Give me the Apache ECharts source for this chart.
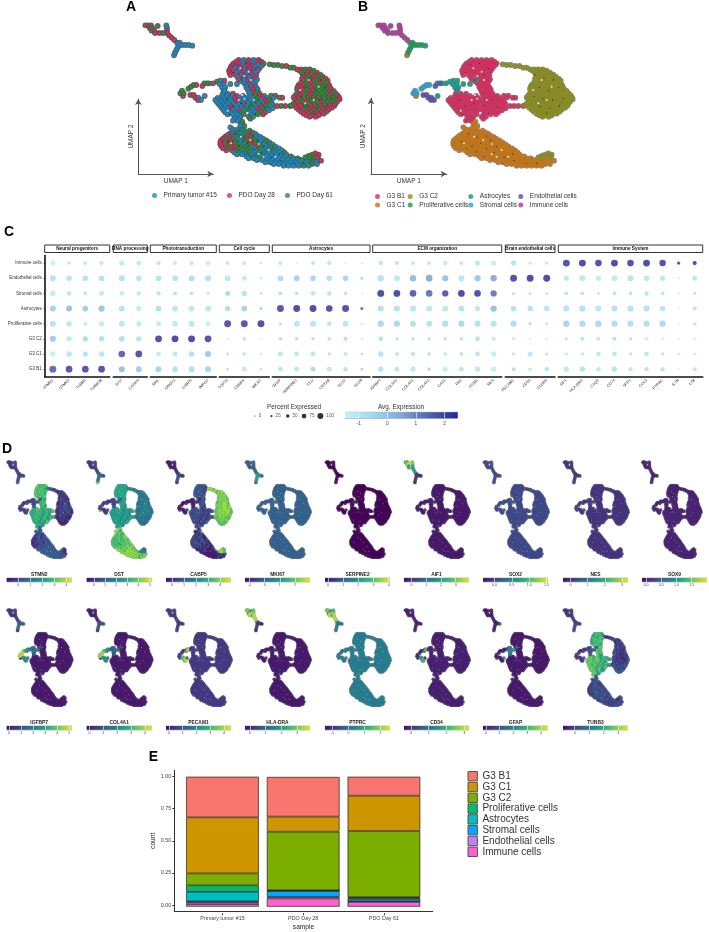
<!DOCTYPE html>
<html><head><meta charset="utf-8">
<style>html,body{margin:0;padding:0;background:#fff}#c{width:709px;height:932px;filter:blur(.3px)}</style>
<script src="https://cdn.jsdelivr.net/npm/echarts@6/dist/echarts.min.js"></script>
</head><body><div id="c"></div>
<script>
// ---------- UMAP cell positions: [v, [u...], sample codes] p=Primary, d=Day 28, g=Day 61
const umapImmune=[[76,[55,63,72,118],'dgdp'],[78,[92],'g'],[84,[68,76,120],'dgp'],[92,[74,82,120],'gdd'],[99,[84,97,108,120],'ddgd'],[106,[126],'d'],[113,[134],'d'],[120,[142],'d']];
const umapProlif=[[128,[150,158],'pp'],[135,[156,165,175,185],'pppp'],[143,[152],'p'],[150,[148],'p'],[158,[144],'p']];
const umapAstro=[[137,[196],'p'],[250,[232,246,258],'ggd'],[245,[270],'g'],[242,[280,292],'pd'],[252,[278,290,310,330],'pppp'],[262,[285,295],'pp'],[272,[292],'p'],[240,[350],'p'],[288,[233],'p']];
const umapStromal=[[272,[165],'g'],[280,[160,170],'gg'],[266,[184],'g'],[260,[192],'g'],[255,[200,208],'gd']];
const umapEndo=[[285,[190,200],'dd'],[293,[205,214],'dp'],[300,[213,222],'dp'],[258,[226],'d'],[250,[240],'g']];
const umapG3B1=[[180,[335,350,365,380,395],'dpdpd'],[185,[328,343,358,373,388,403],'dpdpdd'],[190,[320,335,350,365,380,395,410],'ddpdpdg'],[195,[316,330,348,362,378,392,406],'ddpddpg'],[200,[312,326,340,356,370,384,400],'dpdddpp'],[206,[310,322,338,352,368,382,396],'dpdpdpd'],[212,[306,320,335,350,365,380,392],'ddpdpdp'],[218,[308,328,342,358,372,386],'dpdpdp'],[225,[310,326,345,360,375,388],'ddpdpd'],[231,[332,352,368,382],'pdpd'],[238,[335,350,365,380,390],'dppdp'],[244,[345,358,372,386],'pdpp'],[250,[352,366,380],'pdp'],[256,[358,372,384],'ppd'],[262,[358,374,388],'pdp'],[268,[290,362,380,392],'ppdp'],[275,[290,365,378,392],'ppdg'],[281,[288,302,318,368,384,398],'ppdpgd'],[288,[285,300,315,330,348,370,385,400,412],'pppdppgdp'],[294,[272,292,308,322,338,355,378,392,408,420],'pppdpppgdp'],[300,[265,280,295,310,325,340,355,370,385,400,415,427],'ppppdpppgpdg'],[306,[270,284,300,316,332,348,362,378,392,406,420,432],'ppppdpppgpdg'],[312,[275,290,305,320,335,350,365,380,395,410,425,436],'pppppdpgpdgp'],[318,[280,296,312,328,342,358,372,386,402,416,430],'ppdpppgpdgp'],[325,[285,300,315,330,345,360,375,390,405,420,437],'ppdppgpdpgp'],[331,[290,304,320,338,352,366,380,396,410,426],'pppdpgpdgp'],[337,[295,310,325,345,370,385,400,415],'pppgppgd'],[343,[302,318,332,350,372,392,408],'pppgpgd'],[350,[325,340,365,378],'ppgp'],[356,[322,336,370],'ppg'],[362,[318,332],'pp'],[287,[432,445],'gd'],[293,[440,458,466],'pgd'],[318,[450,462,475,490],'dgdg']];
const umapG3C2=[[193,[428],'g'],[195,[440,452],'gg'],[198,[465,478],'gd'],[203,[490,500],'gg'],[208,[510,522,535,548],'ddgg'],[212,[518,530,545,560],'dgdg'],[218,[525,540,555,570],'gdgd'],[224,[528,540,552,566,580],'gdgdg'],[230,[530,545,560,575,587],'dgdgd'],[236,[525,538,552,568,582,596],'dgdggd'],[242,[530,546,560,576,590,602],'gdgdgd'],[248,[522,538,552,568,582,598],'dgdgdg'],[255,[515,530,545,560,575,590,606],'ddgdggd'],[261,[512,522,538,552,568,582,598,608],'ddgdgggd'],[267,[510,525,540,555,570,585,600,612],'gdgdgggd'],[273,[518,532,548,562,578,592,606,620],'dgdgggdg'],[280,[510,525,540,555,570,585,600,615,626],'ddgdgggdg'],[286,[505,518,532,548,562,578,592,608,622,632],'gdgdgggdgd'],[292,[500,515,530,545,560,575,590,605,620,636],'ddggdggggd'],[298,[504,518,532,548,562,578,592,608,625,638],'dgdggdgggd'],[305,[510,525,540,555,570,585,600,615,630],'dgdggdggd'],[311,[500,518,532,548,562,578,592,608,625],'gdggdggdg'],[317,[492,505,520,535,550,565,580,595,610,622],'gddgdgdgdd'],[323,[508,525,540,555,570,585,600,615],'ddgdgddd'],[329,[515,530,545,560,575,590,605],'dgddgdd'],[335,[522,538,552,568,582,598],'ddgddg'],[341,[530,545,560,575,590],'ddgdd'],[346,[538,555,575],'ddd'],[350,[548,566],'dd'],[460,[565],'d'],[464,[555,575],'gd'],[468,[545,568],'gd'],[472,[535,547,562,572],'gggd']];
const umapG3C1=[[166,[141],'p'],[288,[168],'d'],[365,[346],'g'],[372,[342],'p'],[378,[340,352],'pg'],[382,[310],'p'],[388,[318,332,345],'ppg'],[392,[322,338,352,368],'pgpg'],[397,[315,330,345,360,375],'pgpgg'],[401,[308,322,338,352,368,384],'dgpgdp'],[406,[300,315,330,345,360,375,390],'pdgpgdp'],[411,[294,308,324,340,355,370,385,400],'dgpgdgpp'],[416,[288,303,318,333,348,363,378,393,408],'ddgpgdgpp'],[421,[282,296,310,326,340,356,370,386,402,418],'dgdgpgdgpg'],[427,[280,295,310,325,340,355,370,385,400,415,427],'dgdgpgdgpgp'],[433,[280,292,305,320,335,350,365,380,395,410,425,436],'ddgdgpgdgpgp'],[439,[283,298,313,328,343,358,373,388,403,418,433,445],'dgdgggpdgpgp'],[445,[288,306,322,338,352,368,382,398,412,428,442,456],'dgdgggpgppgp'],[451,[298,315,330,345,360,375,390,405,420,435,450,465],'ddgpgpgppgpp'],[457,[322,338,352,368,382,398,412,428,442,458,472],'pgpgppgpppg'],[463,[330,345,360,375,390,405,420,435,450,465,478],'ppgppgpppgp'],[469,[358,372,388,402,418,432,448,462,476,492],'ppgppppppg'],[475,[365,380,395,410,425,440,455,470,485,500,512],'ppgpppppppg'],[480,[390,405,420,435,450,465,480,495,510,520],'pppppppppg'],[482,[525,540,555,570,582],'ppgpd'],[487,[415,430,445,460,475,490,505,520,535,550,565],'pppppppppgp'],[492,[440,455,470,482,497,512,525,540,555,570],'ppppppgpgp'],[497,[470,485,500,515,530,545],'ppppgp']];
const umapHoles=[[340,205],[365,215],[352,228],[372,240],[345,285],[335,300],[352,296],[380,300],[362,338],[302,332],[370,420],[395,432],[425,450],[342,410],[312,430],[445,470],[410,470],[395,462],[545,240],[520,270],[575,260],[535,310],[560,300]];
const umapSpecks=[[330,195],[358,190],[385,205],[318,218],[345,240],[372,225],[298,300],[316,318],[342,310],[372,316],[395,298],[412,322],[308,345],[385,340],[525,225],[552,235],[580,240],[538,262],[566,272],[596,262],[522,290],[548,296],[578,300],[610,296],[540,320],[570,325],[598,318],[560,340],[326,402],[352,412],[380,408],[305,425],[336,438],[362,430],[392,420],[320,445],[350,455],[380,446],[410,440],[372,470],[402,458],[432,472],[458,462],[428,490],[462,482],[498,490],[530,490]];

const clusterNames=['G3 B1','G3 C1','G3 C2','Proliferative cells','Astrocytes','Stromal cells','Endothelial cells','Immune cells'];
const clusterColors=['#d0305f','#c2761a','#8a8c22','#1c9a4e','#169a8b','#2a9fd0','#5a4ea6','#a83e98'];
const clusterRows=[umapG3B1,umapG3C1,umapG3C2,umapProlif,umapAstro,umapStromal,umapEndo,umapImmune];
const sampleNames=['Primary tumor #15','PDO Day 28','PDO Day 61'];
const sampleCodes=['p','d','g'];
const sampleColors=['#1b8fc9','#d33060','#2f8f3a'];

// ---------- Panel C
const dotRows=['Immune cells','Endothelial cells','Stromal cells','Astrocytes','Proliferative cells','G3 C2','G3 C1','G3 B1'];
const facetNames=['Neural progenitors','RNA processing','Phototransduction','Cell cycle','Astrocytes','ECM organization','Brain endothelial cells','Immune System'];
const facetGenes=[['STMN1','STMN2','TUBB3','TUBB2B'],['DST','CADPS'],['NRL','GNGT1','CABP5','IMPG2'],['TOP2A','CENPF','MKI67'],['GFAP','SERPINE2','CLU','CRYAB','SOX2','SOX9'],['IGFBP7','COL3A1','COL4A1','COL4A2','CAV1','FN1','ITGB1','NES'],['PECAM1','CD34','CLDN5'],['AIF1','HLA-DRA','C1QA','CD74','SPP1','CCL3','PTPRC','IL7R','LTB']];
const dotPercent={STMN1:[55,70,65,72,70,72,58,85],STMN2:[30,60,50,70,60,55,60,82],TUBB3:[35,65,30,65,35,55,55,82],TUBB2B:[40,65,50,75,55,62,60,82],DST:[55,70,50,65,65,65,80,70],CADPS:[50,65,45,55,55,60,82,70],NRL:[40,65,40,65,50,85,50,68],GNGT1:[35,65,35,65,65,85,50,65],CABP5:[35,65,35,65,70,85,60,65],IMPG2:[45,70,30,65,50,85,70,70],TOP2A:[35,65,50,55,85,10,18,18],CENPF:[35,50,60,65,85,35,35,50],MKI67:[15,15,15,20,85,5,10,15],GFAP:[35,65,35,85,25,30,55,50],SERPINE2:[5,68,30,85,65,30,50,50],CLU:[35,65,50,85,70,28,50,50],CRYAB:[45,60,45,80,45,35,25,52],SOX2:[10,60,30,85,65,40,40,45],SOX9:[10,25,8,25,15,10,12,15],IGFBP7:[45,75,85,70,75,50,60,55],COL3A1:[40,70,82,72,72,25,35,50],COL4A1:[35,78,80,70,70,35,45,55],COL4A2:[35,82,80,70,68,35,35,35],CAV1:[50,72,75,70,72,35,35,55],FN1:[35,70,82,70,72,35,35,50],ITGB1:[55,75,80,55,72,50,50,60],NES:[55,75,75,75,70,45,60,60],PECAM1:[55,85,25,65,72,20,25,35],CD34:[25,85,20,60,25,8,55,25],CLDN5:[22,85,20,60,18,15,22,40],AIF1:[85,55,35,72,75,25,22,55],'HLA-DRA':[85,70,35,75,75,40,30,55],C1QA:[80,55,15,72,78,35,45,45],CD74:[85,68,35,70,72,38,52,55],SPP1:[80,70,30,75,72,25,30,40],CCL3:[85,62,45,72,72,20,45,40],PTPRC:[78,55,30,65,75,15,25,45],IL7R:[25,8,5,8,3,8,10,8],LTB:[40,50,25,40,30,15,15,35]};
const dotAverage={STMN1:[-1.2,-.6,-1,-.1,-.6,0,-1.1,1.8],STMN2:[-.8,-.6,-.9,.3,-.8,-.8,-.7,2.2],TUBB3:[-.7,-.6,-.7,0,-1,-.3,-.6,2.2],TUBB2B:[-.8,-.6,-.9,.2,-.9,-.5,-.7,2.2],DST:[-.9,-.6,-1.1,-.6,-.8,-.5,1.9,.3],CADPS:[-.9,-.7,-.9,-.9,-.8,-.6,2.2,0],NRL:[-.8,-.6,-.7,-.5,-.8,2.3,-.9,-.2],GNGT1:[-.7,-.6,-.7,-.7,-.9,2.4,-.8,-.6],CABP5:[-.7,-.4,-.7,-.8,-.8,2.4,-.5,-.4],IMPG2:[-1,-.5,-1.1,-.7,-1.1,2.2,.1,-.2],TOP2A:[-.7,-.7,-.2,-.3,2.2,-1.3,-.6,-.6],CENPF:[-.7,-.9,-.6,-.1,2.2,-.8,-.9,-.9],MKI67:[-.9,-.9,-.7,-.1,2.3,-1.3,-.9,-.9],GFAP:[-.7,-.4,-.6,2.2,-.7,-.6,-.8,-.8],SERPINE2:[-1.2,-.1,-.7,2.4,-.7,-.6,-.8,-.7],CLU:[-.6,-.3,-.8,2.4,-.7,-.6,-.7,-.3],CRYAB:[-.8,-.5,-.8,2.3,-.7,-.7,-.6,-.8],SOX2:[-1.3,-.2,-.7,2.3,-.7,-.5,-.8,-.6],SOX9:[-1.2,-.6,-1.4,1.5,-1.2,-1.2,-.5,-.3],IGFBP7:[-.7,-.6,2.4,-.5,-.3,-.6,-.6,-.6],COL3A1:[-.7,-.8,2.4,-.6,-.3,-.6,-.7,-.7],COL4A1:[-.8,.4,2,-.7,-.5,-.7,-.8,-.8],COL4A2:[-.8,.7,1.6,-.8,-.5,-.7,-.7,-.6],CAV1:[-1,.3,2.1,-.8,-.4,-.7,-1,-1],FN1:[-.7,-.7,2.4,-.7,-.3,-.7,-.7,-.7],ITGB1:[-.8,.1,2.3,-.7,-.5,-.6,-.7,-.8],NES:[-1.1,.7,1.5,.3,-.6,-1.1,-1.1,-1.1],PECAM1:[-.6,2.3,-.7,-.6,-.4,-.8,-.8,-.6],CD34:[-.9,2.4,-.9,-.6,-.6,-1.2,-.8,-.6],CLDN5:[-.9,2.4,-.9,-.6,-.7,-1.2,-.7,-.6],AIF1:[2.3,-.8,-.7,-.6,-.2,-.7,-.8,-.8],'HLA-DRA':[2.4,-.8,-.7,-.6,-.4,-.7,-.8,-.6],C1QA:[2.3,-.9,-.7,-.7,-.3,-.7,-.8,-.8],CD74:[2.4,-.9,-.7,-.6,-.4,-.5,-.8,-.6],SPP1:[2.3,-.7,-.7,-.6,-.5,-.7,-.8,-.7],CCL3:[2.4,-.7,-.7,-.6,-.5,-.8,-.6,-.6],PTPRC:[2.3,-.7,-.7,-.7,-.3,-1,-.7,-.7],IL7R:[2.3,-1.2,-1.2,-1.3,-1.3,-1.2,-.8,-1.3],LTB:[2.4,-.8,-.8,-.7,-.8,-1.1,-.9,-.7]};
const sizeLegendPct=[0,25,50,75,100];
const avgRange=[-1.48,2.46];
const avgTicks=[-1,0,1,2];
const avgColors=['#c8f4fb','#9fdcf0','#7ea9d6','#4c5fb0','#1e2193'];

// ---------- Panel D: [cluster levels in order of clusterNames; a triple is by sample p,d,g]
const featureNames=['STMN2','DST','CABP5','MKI67','SERPINE2','AIF1','SOX2','NES','SOX9','IGFBP7','COL4A1','PECAM1','HLA-DRA','PTPRC','CD34','GFAP','TUBB3'];
const featureRanges=[[-.97,4.44],[-.64,5.18],[-.5,4.89],[-1.3,3],[-.2,4.09],[-.5,3.9],[-.33,1.54],[-.43,3.35],[-.13,2],[-.2,5.2],[-.2,4.5],[-.2,4.5],[-.3,3.8],[-1.46,2.6],[-.38,3.26],[-.2,4.5],[-.8,3.67]];
const featureTicks=[[0,1,2,3,4],[0,1,2,3,4,5],[0,1,2,3,4],[-1,0,1,2],[0,1,2,3,4],[0,1,2,3],[0,.5,1,1.5],[0,1,2,3],[0,.5,1,1.5],[0,1,2,3,4,5],[0,1,2,3,4],[0,1,2,3,4],[0,1,2,3],[-1,0,1,2],[0,1,2,3],[0,1,2,3,4],[0,1,2,3]];
const featureLevels=[
 [[.62,.75,.5],[.3,.12,.22],[.2,.1,.25],.22,.2,.15,.2,.18],
 [[.55,.62,.45],[.82,.72,.62],[.42,.36,.46],.35,.2,.18,.15,.18],
 [[.22,.3,.12],[.08,.18,.3],[.8,.72,.86],.25,.08,.05,.08,.08],
 [.31,.31,.31,.55,.31,.31,.31,.3],
 [.01,.01,.01,.01,.03,.01,.01,.01],
 [.07,.07,.07,.15,.08,.07,.07,[.8,.55,.95]],
 [.22,.22,.22,.22,.24,.22,.22,.22],
 [.15,.15,.15,.15,.18,.18,.15,.15],
 [.1,.1,.1,.1,.1,.1,.1,.1],
 [.07,.07,.07,.3,.35,[.8,.55,.9],.5,.15],
 [.07,.07,.07,.25,.3,[.75,.6,.85],.5,.08],
 [.17,.17,.17,.17,.17,.17,[.9,.7,.95],.17],
 [.07,.07,.07,.15,.07,.07,.07,[.75,.9,.6]],
 [.42,.42,.42,.42,.42,.42,.42,[.7,.9,.55]],
 [.09,.09,.09,.09,.09,.09,[.7,.5,.8],.09],
 [.07,.07,.07,.07,[.45,.3,.15],.07,.07,.07],
 [[.75,.6,.5],[.2,.12,.32],[.18,.28,.12],.2,.22,.15,.15,.15]
];
const viridis=['#440154','#482878','#3e4a89','#31688e','#26828e','#1f9e89','#35b779','#6ece58','#b5de2b','#fde725'];

// ---------- Panel E
const barSamples=['Primary tumor #15','PDO Day 28','PDO Day 61'];
const barG3B1=[.313,.305,.146];
const barG3C1=[.431,.116,.272];
const barG3C2=[.092,.451,.508];
const barProlif=[.049,.002,.005];
const barAstro=[.074,.003,.01];
const barStromal=[.005,.045,.018];
const barEndo=[.016,.012,.003];
const barImmune=[.02,.064,.038];
const barValues=[barG3B1,barG3C1,barG3C2,barProlif,barAstro,barStromal,barEndo,barImmune];
const barColors=['#F8766D','#CD9600','#7CAE00','#00BE67','#00BFC4','#00A9FF','#C77CFF','#FF61CC'];
const barTicks=[0,.25,.5,.75,1];

// ---------- build
const F='"Liberation Sans",Arial,sans-serif';
const grid=[],xAxis=[],yAxis=[],series=[],legend=[],graphic=[];
const txt=(t,x,y,size,o={})=>graphic.push({type:'text',x,y,silent:true,z:20,style:{text:t,fill:o.fill||'#333',font:(o.bold?'bold ':'')+size+'px '+F,align:'center',verticalAlign:'middle',textAlign:'center',textVerticalAlign:'middle'}});
const addGrid=(g,x,y)=>{grid.push(Object.assign({containLabel:false},g));const i=grid.length-1;xAxis.push(Object.assign({gridIndex:i},x));yAxis.push(Object.assign({gridIndex:i},y));return i;};
const hiddenX=m=>({type:'value',min:0,max:m,show:false});
const hiddenY=m=>({type:'value',min:0,max:m,show:false,inverse:true});
const cells=[];
clusterRows.forEach((rows,c)=>rows.forEach(r=>r[1].forEach((u,i)=>cells.push({u,v:r[0],s:r[2][i%r[2].length],c}))));
const cellXY=cells.map(p=>[p.u,p.v]);

const umapGrid=(left,top,w,h)=>addGrid({left,top,width:w,height:h},hiddenX(720),hiddenY(645));
function umapAxes(ox,oy,len){
 const ax=(n,g)=>({type:'value',min:0,max:1,splitLine:{show:false},axisTick:{show:false},axisLabel:{show:false},
   axisLine:{show:true,symbol:['none','arrow'],symbolSize:[5,6],lineStyle:{color:'#555',width:1}},
   name:n,nameLocation:'middle',nameGap:g,nameTextStyle:{fontFamily:F,fontSize:6.5,color:'#333'}});
 addGrid({left:ox,top:oy-len,width:len,height:len},ax('UMAP 1',4),ax('UMAP 2',4));
}
const scat=(gi,name,data,size,color,extra={})=>{const s=Object.assign({type:'scatter',name,xAxisIndex:gi,yAxisIndex:gi,data,silent:true,itemStyle:{color},animation:false,clip:false},extra);if(size)s.symbolSize=size;series.push(s);};

// Panel A
let ga=umapGrid(127,0,240,215);
scat(ga,'outlineA',cellXY,5.8,'#555');
scat(ga,'cellsA',cells.map(p=>({value:[p.u,p.v],itemStyle:{color:sampleColors[sampleCodes.indexOf(p.s)],borderColor:'#333',borderWidth:.3}})),4.5,'#888');
sampleNames.forEach((n,i)=>scat(ga,n,[],5,sampleColors[i]));
scat(ga,'holesA',umapHoles,2,'#fff');
scat(ga,'specksA',umapSpecks,1.3,'#222');
umapAxes(138.3,174,75);
txt('A',131,7,14,{bold:true,fill:'#000'});
legend.push({data:sampleNames,left:152,top:192,orient:'horizontal',itemWidth:8,itemHeight:5,itemGap:10,icon:'circle',selectedMode:false,padding:0,textStyle:{fontFamily:F,fontSize:6.5,color:'#333'}});
// Panel B
let gb=umapGrid(360,0,240,215);
scat(gb,'outlineB',cellXY,5.8,'#777');
clusterNames.forEach((n,c)=>scat(gb,n,cells.filter(p=>p.c===c).map(p=>[p.u,p.v]),5,clusterColors[c]));
scat(gb,'holesB',umapHoles,2,'#fff');
scat(gb,'specksB',umapSpecks,1.3,'#222');
umapAxes(371,174,75.7);
txt('B',363,7,14,{bold:true,fill:'#000'});
[[['G3 B1','G3 C1'],375],[['G3 C2','Proliferative cells'],407.7],[['Astrocytes','Stromal cells'],468.3],[['Endothelial cells','Immune cells'],518.3]].forEach(l=>{
 legend.push({data:l[0],left:l[1],top:192.5,orient:'vertical',itemWidth:8,itemHeight:5,itemGap:0.5,icon:'circle',selectedMode:false,padding:0,textStyle:{fontFamily:F,fontSize:6.5,lineHeight:8,color:'#333'}});
});

// Panel C
txt('C',9,232,14,{bold:true,fill:'#000'});
const facetEdges=[[44.7,109.7],[113.3,147.3],[150.3,216.3],[219.3,269.3],[272.3,370],[372.7,501.7],[505.3,555],[558.3,702.7]];
const dotSize=p=>1.8+p*.06;
const avgColor=a=>echarts.color.lerp(Math.max(0,Math.min(1,(a-avgRange[0])/(avgRange[1]-avgRange[0]))),avgColors);
facetNames.forEach((name,f)=>{
 const [l,r]=facetEdges[f];
 const gi=addGrid({left:l,top:255.5,width:r-l,height:121.2},
  {type:'category',data:facetGenes[f],axisLine:{lineStyle:{color:'#111',width:1.6}},axisTick:{alignWithLabel:true,length:1.5,lineStyle:{color:'#333',width:.5}},axisLabel:{interval:0,rotate:45,fontFamily:F,fontSize:3.9,color:'#333',margin:3}},
  {type:'category',data:dotRows,inverse:true,axisLine:{show:f===0,lineStyle:{color:'#111',width:1.6}},axisTick:{show:f===0,length:1.5,alignWithLabel:true,lineStyle:{color:'#333',width:.5}},axisLabel:{show:f===0,interval:0,fontFamily:F,fontSize:4.5,color:'#333',margin:3}});
 const data=[];
 facetGenes[f].forEach((g,i)=>dotRows.forEach((rn,j)=>data.push({value:[i,j],symbolSize:dotSize(dotPercent[g][j]),itemStyle:{color:avgColor(dotAverage[g][j])}})));
 scat(gi,name+' dots',data,0,'#888');
 graphic.push({type:'rect',silent:true,z:10,shape:{x:l,y:245,width:r-l,height:7.5},style:{fill:'#fff',stroke:'#333',lineWidth:1}});
 txt(name,(l+r)/2,248.9,4.7,{bold:true,fill:'#111'});
});
// size legend
txt('Percent Expressed',294,407,6.4);
const gs=addGrid({left:247,top:412,width:81.5,height:8},{type:'category',data:sizeLegendPct,show:false},{type:'value',min:-1,max:1,show:false});
scat(gs,'sizeLegend',sizeLegendPct.map((p,i)=>({value:[i,0],symbolSize:1+p*.05})),0,'#000',{label:{show:true,position:'right',distance:3,fontFamily:F,fontSize:4.6,color:'#333',formatter:q=>sizeLegendPct[q.dataIndex]}});

function colorbar(left,top,w,h,range,ticks,colors,fontSize,labelMargin){
 const gi=addGrid({left,top,width:w,height:h},
  {type:'value',min:range[0],max:range[1],z:6,splitLine:{show:false},axisLine:{show:false,onZero:false},
   axisTick:{show:true,inside:true,length:h,customValues:ticks,lineStyle:{color:'#fff',width:.6}},
   axisLabel:{show:true,customValues:ticks,fontFamily:F,fontSize,color:'#444',margin:labelMargin,hideOverlap:false,formatter:v=>ticks.some(t=>t%1)?v.toFixed(1):String(v)}},
  {type:'value',min:-1,max:1,show:false});
 const line=(c,wd,name)=>series.push({type:'line',name,xAxisIndex:gi,yAxisIndex:gi,data:[[range[0],0],[range[1],0]],showSymbol:false,symbol:'none',silent:true,animation:false,clip:false,lineStyle:{color:c,width:wd,cap:'butt'}});
 line('#bbb',h+1.2,'cbEdge');
 line({type:'linear',x:0,y:0,x2:1,y2:0,colorStops:colors.map((c,i)=>({offset:i/(colors.length-1),color:c}))},h,'cb');
}
txt('Avg. Expression',401,407,6.4);
colorbar(345,412.3,112.7,6,avgRange,avgTicks,avgColors,4.8,2.5);

// Panel D
txt('D',7,449,14,{bold:true,fill:'#000'});
const barLefts=[6.7,86.7,166,245,325,404,483,563,642];
const rowTops=[445,593], rowBars=[578,726], rowTitles=[575,723];
featureNames.forEach((g,k)=>{
 const row=k<9?0:1, col=k<9?k:k-9, bx=barLefts[col];
 const gi=umapGrid(bx-4.5,rowTops[row],78.5,145.8);
 const lv=featureLevels[k];
 scat(gi,'outline'+g,cellXY,4,'#999');
 scat(gi,g,cells.map(p=>{const l=lv[p.c];const t=Array.isArray(l)?l[sampleCodes.indexOf(p.s)]:l;return {value:[p.u,p.v],itemStyle:{color:echarts.color.lerp(t,viridis)}};}),3.3,'#440154');
 scat(gi,'holes'+g,umapHoles,.8,'#fff');
 colorbar(bx,rowBars[row],65,3.8,featureRanges[k],featureTicks[k],viridis,3.6,1.5);
 txt(g,bx+32.5,rowTitles[row],4.9,{bold:true,fill:'#222'});
});

// Panel E: axis frame spans the whole panel, bars sit in an inner band grid
txt('E',153.5,757.5,14,{bold:true,fill:'#000'});
addGrid({left:174.3,top:770.2,width:258.4,height:143},
 {type:'value',min:0,max:1,splitLine:{show:false},axisLine:{onZero:false,lineStyle:{color:'#333',width:1}},axisTick:{show:false},axisLabel:{show:false},
  name:'sample',nameLocation:'middle',nameGap:12.5,nameTextStyle:{fontFamily:F,fontSize:6.6,color:'#222'}},
 {type:'value',min:-.05,max:1.05,splitLine:{show:false},axisLine:{onZero:false,lineStyle:{color:'#333',width:1}},
  axisTick:{customValues:barTicks,length:2,lineStyle:{color:'#333'}},axisLabel:{customValues:barTicks,formatter:v=>v.toFixed(2),fontFamily:F,fontSize:5.4,color:'#444',margin:3},
  name:'count',nameLocation:'middle',nameGap:17,nameRotate:90,nameTextStyle:{fontFamily:F,fontSize:6.6,color:'#222'}});
const ge=addGrid({left:182.1,top:770.2,width:242.2,height:143},
 {type:'category',data:barSamples,axisLine:{show:false,onZero:false},axisTick:{show:true,alignWithLabel:true,length:2,lineStyle:{color:'#333'}},axisLabel:{interval:0,fontFamily:F,fontSize:5.4,color:'#444',margin:3}},
 {type:'value',min:-.05,max:1.05,show:false});
[...clusterNames.keys()].reverse().forEach(c=>series.push({type:'bar',name:clusterNames[c]+' share',stack:'samples',xAxisIndex:ge,yAxisIndex:ge,barWidth:72.7,silent:true,animation:false,
 data:barValues[c],itemStyle:{color:barColors[c],borderColor:'#222',borderWidth:.7}}));
legend.push({data:clusterNames.map((n,c)=>({name:n+' share',icon:'rect',itemStyle:{color:barColors[c],borderColor:'#555',borderWidth:1}})),
 formatter:n=>n.replace(' share',''),left:467.5,top:771,orient:'vertical',itemWidth:9.4,itemHeight:9.4,itemGap:.4,selectedMode:false,padding:0,textStyle:{fontFamily:F,fontSize:10,lineHeight:9.8,color:'#333'}});

const chart=echarts.init(document.getElementById('c'),null,{renderer:'canvas',width:709,height:932});
chart.setOption({animation:false,backgroundColor:'#fff',textStyle:{fontFamily:F},tooltip:{show:false},grid,xAxis,yAxis,series,legend,graphic:{elements:graphic}});
</script></body></html>
